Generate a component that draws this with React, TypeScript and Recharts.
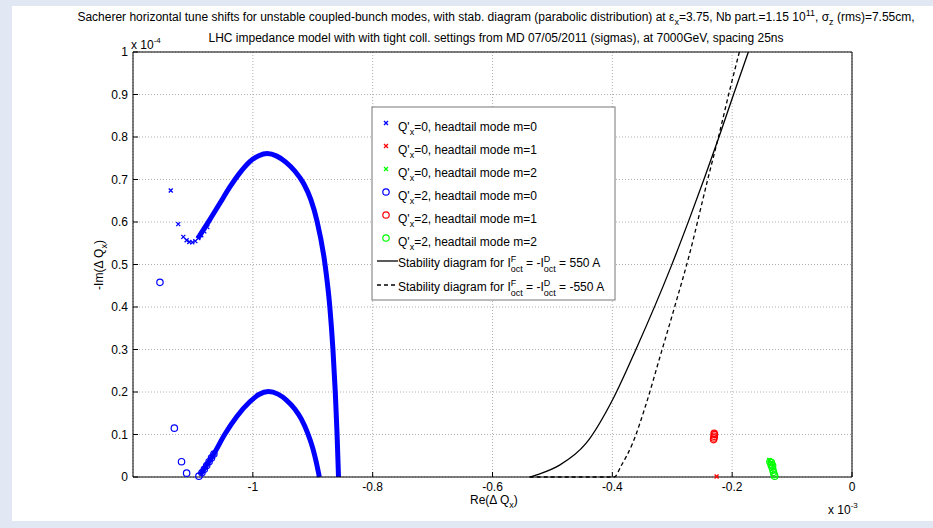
import React from "react"
import { ComposedChart, Line, Scatter, XAxis, YAxis, CartesianGrid } from "recharts"

const FONT = "'Liberation Sans', Arial, Helvetica, sans-serif"

// axis ticks (Re in 1e-3, -Im in 1e-4)
const xTicks = [-1, -0.8, -0.6, -0.4, -0.2, 0]
const yTicks = [0, 0.1, 0.2, 0.3, 0.4, 0.5, 0.6, 0.7, 0.8, 0.9, 1]

// Q'x=0, m=0 : isolated markers + dense band
const q0m0Sparse = [
  { x: -1.137, y: 0.674 },
  { x: -1.1245, y: 0.595 },
  { x: -1.116, y: 0.565 },
  { x: -1.1105, y: 0.557 },
  { x: -1.106, y: 0.553 },
  { x: -1.101, y: 0.552 },
  { x: -1.096, y: 0.555 },
  { x: -1.091, y: 0.562 },
  { x: -1.086, y: 0.569 },
  { x: -1.081, y: 0.578 },
  { x: -1.076, y: 0.588 },
]
const q0m0Band = [
  { x: -1.092, y: 0.561 },
  { x: -1.072, y: 0.605 },
  { x: -1.055, y: 0.644 },
  { x: -1.038, y: 0.683 },
  { x: -1.022, y: 0.715 },
  { x: -1.005, y: 0.742 },
  { x: -0.99, y: 0.756 },
  { x: -0.976, y: 0.761 },
  { x: -0.96, y: 0.755 },
  { x: -0.945, y: 0.741 },
  { x: -0.93, y: 0.72 },
  { x: -0.915, y: 0.69 },
  { x: -0.903, y: 0.652 },
  { x: -0.893, y: 0.603 },
  { x: -0.8795, y: 0.5 },
  { x: -0.8715, y: 0.4 },
  { x: -0.8663, y: 0.3 },
  { x: -0.8624, y: 0.2 },
  { x: -0.8594, y: 0.1 },
  { x: -0.857, y: 0 },
]

// Q'x=2, m=0
const q2m0Sparse = [
  { x: -1.155, y: 0.458 },
  { x: -1.131, y: 0.115 },
  { x: -1.119, y: 0.036 },
  { x: -1.1105, y: 0.009 },
  { x: -1.09, y: 0.002 },
  { x: -1.085, y: 0.01 },
  { x: -1.081, y: 0.018 },
  { x: -1.077, y: 0.027 },
  { x: -1.073, y: 0.036 },
  { x: -1.069, y: 0.045 },
  { x: -1.065, y: 0.054 },
]
const q2m0Band = [
  { x: -1.088, y: 0.005 },
  { x: -1.077, y: 0.028 },
  { x: -1.066, y: 0.052 },
  { x: -1.047, y: 0.1 },
  { x: -1.027, y: 0.142 },
  { x: -1.005, y: 0.177 },
  { x: -0.99, y: 0.194 },
  { x: -0.974, y: 0.201 },
  { x: -0.958, y: 0.195 },
  { x: -0.944, y: 0.181 },
  { x: -0.93, y: 0.16 },
  { x: -0.919, y: 0.136 },
  { x: -0.909, y: 0.105 },
  { x: -0.9, y: 0.068 },
  { x: -0.894, y: 0.034 },
  { x: -0.889, y: 0 },
]

// m=1 (red) and m=2 (green)
const q0m1 = [{ x: -0.226, y: 0.001 }]
const q2m1 = [
  { x: -0.231, y: 0.088 },
  { x: -0.2305, y: 0.092 },
  { x: -0.23, y: 0.096 },
  { x: -0.2295, y: 0.1 },
  { x: -0.23, y: 0.103 },
]
const q0m2 = [
  { x: -0.138, y: 0.04 },
  { x: -0.1355, y: 0.031 },
]
const q2m2 = [
  { x: -0.137, y: 0.036 },
  { x: -0.135, y: 0.029 },
  { x: -0.1335, y: 0.023 },
  { x: -0.132, y: 0.017 },
  { x: -0.131, y: 0.011 },
  { x: -0.13, y: 0.006 },
  { x: -0.129, y: 0.002 },
  { x: -0.1345, y: 0.034 },
  { x: -0.1325, y: 0.027 },
]

// stability diagrams
const stab550 = [
  { x: -0.538, y: 0 },
  { x: -0.52, y: 0.008 },
  { x: -0.488, y: 0.028 },
  { x: -0.444, y: 0.079 },
  { x: -0.397, y: 0.189 },
  { x: -0.361, y: 0.299 },
  { x: -0.302, y: 0.495 },
  { x: -0.272, y: 0.605 },
  { x: -0.222, y: 0.8 },
  { x: -0.197, y: 0.903 },
  { x: -0.173, y: 1.0 },
]
const stabMinus550 = [
  { x: -0.538, y: 0 },
  { x: -0.397, y: 0 },
  { x: -0.385, y: 0.027 },
  { x: -0.366, y: 0.08 },
  { x: -0.344, y: 0.17 },
  { x: -0.32, y: 0.285 },
  { x: -0.294, y: 0.41 },
  { x: -0.272, y: 0.52 },
  { x: -0.241, y: 0.699 },
  { x: -0.222, y: 0.805 },
  { x: -0.205, y: 0.905 },
  { x: -0.188, y: 1.0 },
]

const BLUE = "#0000ff"
const RED = "#ff0000"
const GREEN = "#00ff00"

const xShape = (color: string, s = 2) => (props: any) => {
  const { cx, cy } = props
  return (
    <path
      d={`M${cx - s},${cy - s}L${cx + s},${cy + s}M${cx - s},${cy + s}L${cx + s},${cy - s}`}
      stroke={color}
      strokeWidth={1.3}
      fill="none"
    />
  )
}
const oShape = (color: string, r = 3.2) => (props: any) => {
  const { cx, cy } = props
  return <circle cx={cx} cy={cy} r={r} fill="none" stroke={color} strokeWidth={1.2} />
}

const fmtY = (v: number) => (v === 0 ? "0" : v === 1 ? "1" : v.toFixed(1))
const fmtX = (v: number) => String(v)

const legendRows = [
  { kind: "x", color: BLUE, q: "0", m: "0" },
  { kind: "x", color: RED, q: "0", m: "1" },
  { kind: "x", color: GREEN, q: "0", m: "2" },
  { kind: "o", color: BLUE, q: "2", m: "0" },
  { kind: "o", color: RED, q: "2", m: "1" },
  { kind: "o", color: GREEN, q: "2", m: "2" },
]
const legendRowY = [127, 150, 173, 196, 219, 242]

function Overlay() {
  const lx = 372
  const ly = 107
  return (
    <svg
      width={933}
      height={528}
      style={{ position: "absolute", left: 0, top: 0, pointerEvents: "none" }}
      fontFamily={FONT}
    >
      {/* title */}
      <text x={496} y={21} textAnchor="middle" fontSize={12} fill="#000">
        Sacherer horizontal tune shifts for unstable coupled-bunch modes, with stab. diagram (parabolic distribution) at ε
        <tspan dy={4} fontSize={9}>x</tspan>
        <tspan dy={-4}>=3.75, Nb part.=1.15 10</tspan>
        <tspan dy={-5} fontSize={9}>11</tspan>
        <tspan dy={5}>, σ</tspan>
        <tspan dy={4} fontSize={9}>z</tspan>
        <tspan dy={-4}> (rms)=7.55cm,</tspan>
      </text>
      <text x={496} y={42} textAnchor="middle" fontSize={12} fill="#000">
        LHC impedance model with with tight coll. settings from MD 07/05/2011 (sigmas), at 7000GeV, spacing 25ns
      </text>
      {/* exponents */}
      <text x={131} y={49} fontSize={12} fill="#000">
        x 10<tspan dy={-6} fontSize={8}>-4</tspan>
      </text>
      <text x={828} y={514} fontSize={12} fill="#000">
        x 10<tspan dy={-6} fontSize={8}>-3</tspan>
      </text>
      {/* axis labels */}
      <text x={470} y={504} fontSize={12} fill="#000">
        Re(Δ Q<tspan dy={4} fontSize={9}>x</tspan>
        <tspan dy={-4}>)</tspan>
      </text>
      <text x={0} y={0} fontSize={12} fill="#000" textAnchor="middle" transform="translate(103,265) rotate(-90)">
        -Im(Δ Q<tspan dy={4} fontSize={9}>x</tspan>
        <tspan dy={-4}>)</tspan>
      </text>
      {/* legend */}
      <rect x={lx} y={ly} width={243} height={193} fill="#fff" stroke="#777" strokeWidth={1} />
      {legendRows.map((r, i) => {
        const cy = legendRowY[i]
        const cx = 386
        return (
          <g key={i}>
            {r.kind === "x"
              ? xShape(r.color)({ cx, cy: cy - 4 })
              : oShape(r.color)({ cx, cy: cy - 4 })}
            <text x={398} y={cy + 4} fontSize={12} fill="#000">
              Q'<tspan dy={4} fontSize={9}>x</tspan>
              <tspan dy={-4}>={r.q}, headtail mode m={r.m}</tspan>
            </text>
          </g>
        )
      })}
      {[
        { y: 265, dash: undefined as string | undefined, v: "550 A" },
        { y: 289, dash: "4 3", v: "-550 A" },
      ].map((r, i) => (
        <g key={"s" + i}>
          <line x1={377} x2={398} y1={r.y - 4} y2={r.y - 4} stroke="#000" strokeWidth={1.3} strokeDasharray={r.dash} />
          <text x={398} y={r.y + 2} fontSize={12} fill="#000">
            Stability diagram for I<tspan dy={-5} fontSize={9}>F</tspan>
            <tspan dx={-5.5} dy={10} fontSize={9}>oct</tspan>
            <tspan dy={-5}> = -I</tspan>
            <tspan dy={-5} fontSize={9}>D</tspan>
            <tspan dx={-6.5} dy={10} fontSize={9}>oct</tspan>
            <tspan dy={-5}> = {r.v}</tspan>
          </text>
        </g>
      ))}
    </svg>
  )
}

export default function App() {
  const axisTick = { fill: "#000", fontSize: 12, fontFamily: FONT }
  return (
    <div style={{ position: "absolute", left: 0, top: 0, width: 933, height: 528, background: "#e2e8f3" }}>
      <div style={{ position: "absolute", left: 12, top: 6, width: 921, height: 515, background: "#fff" }} />
      <div style={{ position: "absolute", left: 0, top: 0 }}>
        <ComposedChart width={933} height={528} margin={{ top: 42, right: 71, bottom: 21, left: 93 }}>
          <CartesianGrid stroke="#b0b0b0" strokeDasharray="1 2" />
          <XAxis
            type="number"
            dataKey="x"
            domain={[-1.2, 0]}
            ticks={xTicks}
            tickFormatter={fmtX}
            height={30}
            tickSize={-5}
            tickMargin={10}
            stroke="#000"
            tick={axisTick}
          />
          <XAxis
            xAxisId="top"
            orientation="top"
            type="number"
            domain={[-1.2, 0]}
            ticks={xTicks}
            height={10}
            tickSize={-5}
            tick={false}
            stroke="#000"
          />
          <YAxis
            type="number"
            dataKey="y"
            domain={[0, 1]}
            ticks={yTicks}
            tickFormatter={fmtY}
            width={40}
            tickSize={-5}
            tickMargin={10}
            stroke="#000"
            tick={axisTick}
          />
          <YAxis
            yAxisId="right"
            orientation="right"
            type="number"
            domain={[0, 1]}
            ticks={yTicks}
            width={10}
            tickSize={-5}
            tick={false}
            stroke="#000"
          />
          <Line data={stab550} dataKey="y" type="monotone" stroke="#000" strokeWidth={1.3} dot={false} isAnimationActive={false} />
          <Line data={stabMinus550} dataKey="y" type="monotone" stroke="#000" strokeWidth={1.3} strokeDasharray="4 3" dot={false} isAnimationActive={false} />
          <Line data={q0m0Band} dataKey="y" type="monotone" stroke={BLUE} strokeWidth={5} dot={false} isAnimationActive={false} />
          <Line data={q2m0Band} dataKey="y" type="monotone" stroke={BLUE} strokeWidth={5} dot={false} isAnimationActive={false} />
          <Scatter data={q0m0Sparse} shape={xShape(BLUE)} isAnimationActive={false} />
          <Scatter data={q2m0Sparse} shape={oShape(BLUE)} isAnimationActive={false} />
          <Scatter data={q0m1} shape={xShape(RED)} isAnimationActive={false} />
          <Scatter data={q2m1} shape={oShape(RED)} isAnimationActive={false} />
          <Scatter data={q2m2} shape={oShape(GREEN)} isAnimationActive={false} />
          <Scatter data={q0m2} shape={xShape(GREEN)} isAnimationActive={false} />
        </ComposedChart>
      </div>
      <Overlay />
    </div>
  )
}
